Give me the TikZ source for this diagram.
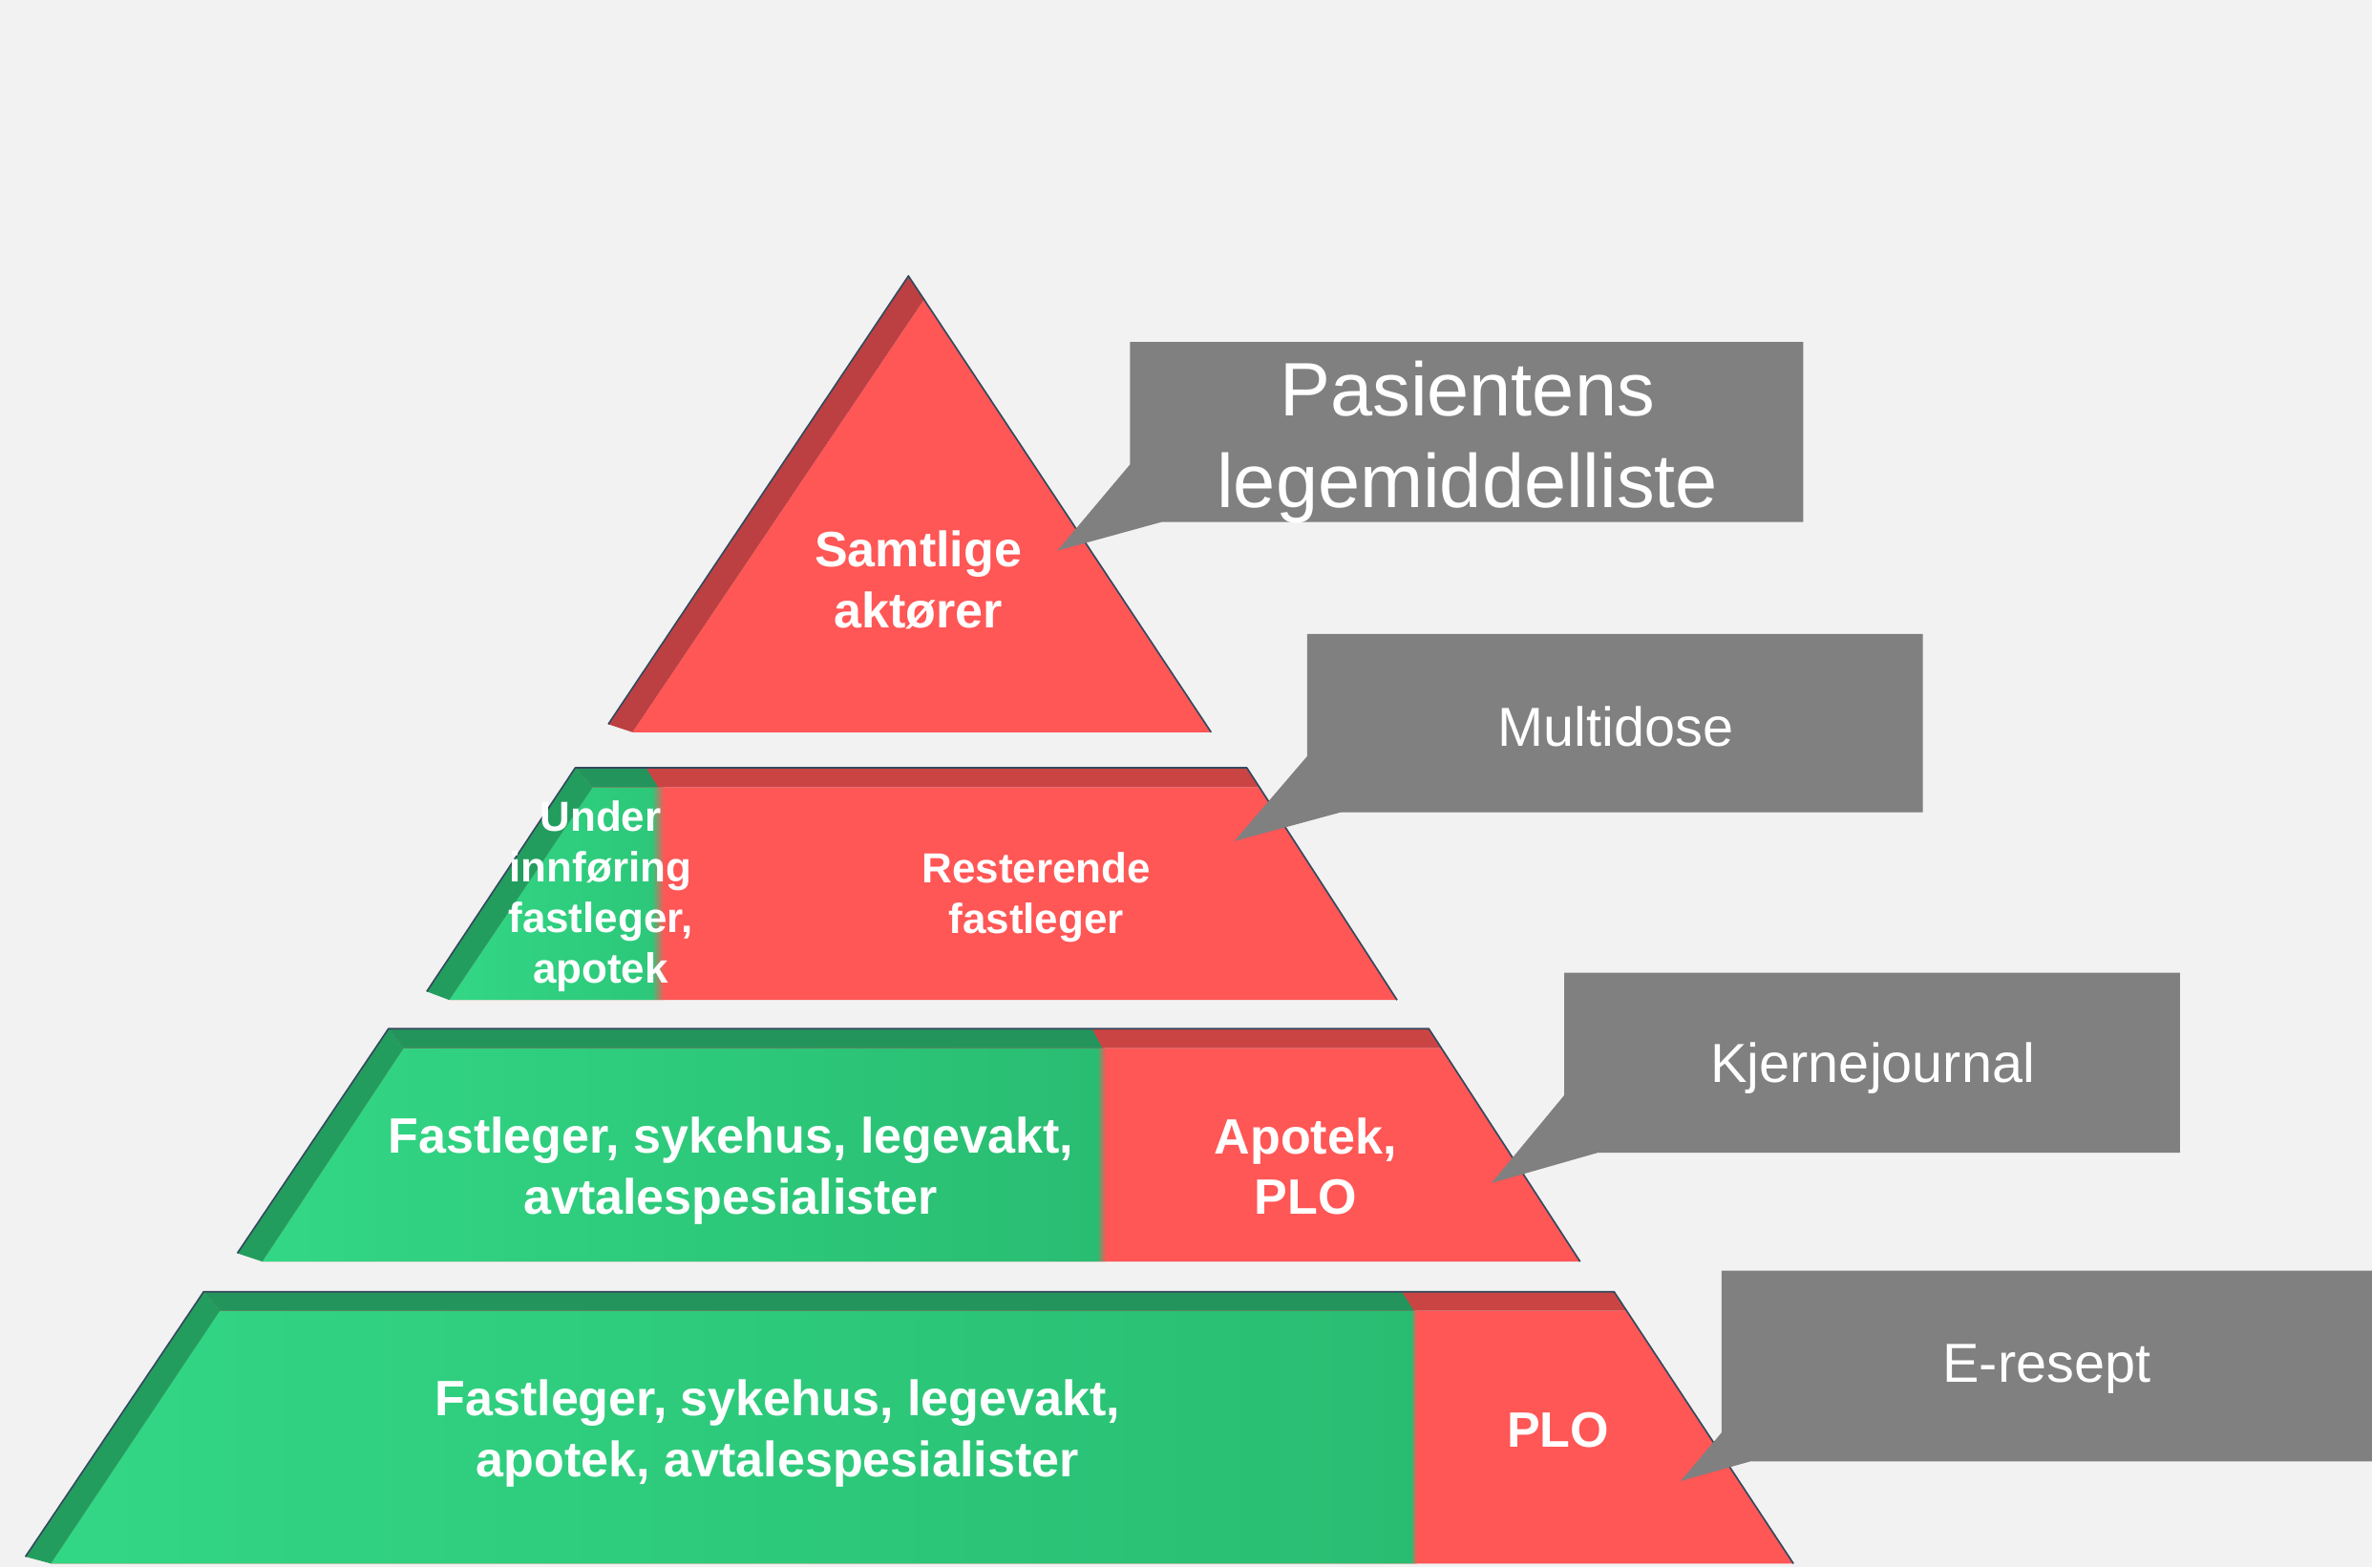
\documentclass[tikz,border=0pt]{standalone}
\usepackage{fontspec}
\setmainfont{Liberation Sans}
\definecolor{bg}{HTML}{F2F2F2}
\definecolor{redface}{HTML}{FF5656}
\definecolor{redtop}{HTML}{CB4444}
\definecolor{redside}{HTML}{BC4042}
\definecolor{greenL}{HTML}{32D785}
\definecolor{greenR}{HTML}{29BD72}
\definecolor{greentop}{HTML}{23955C}
\definecolor{greenside}{HTML}{239D5E}
\definecolor{edgeblue}{HTML}{34495E}
\definecolor{callgray}{HTML}{808080}
\begin{document}
\begin{tikzpicture}[x=0.02cm,y=-0.02cm,
  edgeline/.style={draw=edgeblue,line width=0.6pt,line join=round},
  lbl/.style={text=white,align=center,font=\bfseries\fontsize{18.7}{22.8}\selectfont,inner sep=0pt},
  lblsmall/.style={text=white,align=center,font=\bfseries\fontsize{15.8}{18.95}\selectfont,inner sep=0pt},
  callbox/.style={inner sep=0pt,outer sep=0pt},
  calltext/.style={text=white,align=center,inner sep=0pt,font=\fontsize{20.7}{24.8}\selectfont},
  callshape/.style={fill=callgray}]
% canvas
\fill[bg] (0,0) rectangle (1568,1036);
\useasboundingbox (0,0) rectangle (1568,1036);

% ---------- top triangle ----------
\coordinate (t1apb) at (600.5,182.4);
\coordinate (t1apf) at (610.8,198);
\coordinate (t1bBL) at (402.1,478.7);
\coordinate (t1fBL) at (418.1,484);
\coordinate (t1BR) at (800.6,484);
\fill[redface] (t1fBL) -- (t1apf) -- (t1BR) -- cycle;
\fill[redside] (t1bBL) -- (t1apb) -- (t1apf) -- (t1fBL) -- cycle;
\draw[edgeline] (t1bBL) -- (t1apb) -- (t1BR);
\node[lbl] (n1) at (607,383.5) {Samtlige\\aktører};

% ---------- tier 2 ----------
\coordinate (t2bTL) at (380.3,507.5);
\coordinate (t2bTR) at (824.2,507.5);
\coordinate (t2fTL) at (391.8,520.4);
\coordinate (t2fTR) at (832.6,520.4);
\coordinate (t2fBL) at (297,661);
\coordinate (t2bBL) at (282.1,655.4);
\coordinate (t2BR) at (923.5,661);
\begin{scope}
  \clip (t2fTL) -- (t2fTR) -- (t2BR) -- (t2fBL) -- cycle;
  \fill[redface] (250,500) rectangle (950,670);
  \shade[left color=greenL,right color=greenR!60!greenL] (297,500) rectangle (431,670);
  \shade[left color=greenR!60!greenL,right color=redface] (431,500) rectangle (439,670);
\end{scope}
\begin{scope}
  \clip (t2bTL) -- (t2bTR) -- (t2fTR) -- (t2fTL) -- cycle;
  \fill[redtop] (250,500) rectangle (950,530);
  \fill[greentop] (250,500) -- (422.3,500) -- (437.9,525) -- (250,525) -- cycle;
\end{scope}
\fill[greenside] (t2bTL) -- (t2fTL) -- (t2fBL) -- (t2bBL) -- cycle;
\draw[edgeline] (t2bBL) -- (t2bTL) -- (t2bTR) -- (t2BR);
\node[lblsmall] (n2a) at (397,592.5) {Under\\innføring\\fastleger,\\apotek};
\node[lblsmall] (n2b) at (685,593) {Resterende\\fastleger};

% ---------- tier 3 ----------
\coordinate (t3bTL) at (256.8,680);
\coordinate (t3bTR) at (944.5,680);
\coordinate (t3fTL) at (266.8,692.9);
\coordinate (t3fTR) at (952.9,692.9);
\coordinate (t3fBL) at (173.4,833.9);
\coordinate (t3bBL) at (156.9,828.4);
\coordinate (t3BR) at (1044.5,833.9);
\begin{scope}
  \clip (t3fTL) -- (t3fTR) -- (t3BR) -- (t3fBL) -- cycle;
  \fill[redface] (150,670) rectangle (1060,840);
  \shade[left color=greenL,right color=greenR] (173.4,670) rectangle (725,840);
  \shade[left color=greenR,right color=redface] (725,670) rectangle (731,840);
\end{scope}
\begin{scope}
  \clip (t3bTL) -- (t3bTR) -- (t3fTR) -- (t3fTL) -- cycle;
  \fill[redtop] (150,670) rectangle (1060,700);
  \fill[greentop] (150,670) -- (716.3,670) -- (732.6,700) -- (150,700) -- cycle;
\end{scope}
\fill[greenside] (t3bTL) -- (t3fTL) -- (t3fBL) -- (t3bBL) -- cycle;
\draw[edgeline] (t3bBL) -- (t3bTL) -- (t3bTR) -- (t3BR);
\node[lbl] (n3a) at (483,774) {Fastleger, sykehus, legevakt,\\avtalespesialister};
\node[lbl] (n3b) at (863,771) {Apotek,\\PLO};

% ---------- tier 4 ----------
\coordinate (t4bTL) at (134.6,853.9);
\coordinate (t4bTR) at (1067,853.9);
\coordinate (t4fTL) at (145.3,866.5);
\coordinate (t4fTR) at (1075.3,866.5);
\coordinate (t4fBL) at (33.6,1033.5);
\coordinate (t4bBL) at (16.8,1029);
\coordinate (t4BR) at (1185.5,1033.5);
\begin{scope}
  \clip (t4fTL) -- (t4fTR) -- (t4BR) -- (t4fBL) -- cycle;
  \fill[redface] (10,845) rectangle (1200,1040);
  \shade[left color=greenL,right color=greenR] (33.6,845) rectangle (932.5,1040);
  \shade[left color=greenR,right color=redface] (932.5,845) rectangle (936.5,1040);
\end{scope}
\begin{scope}
  \clip (t4bTL) -- (t4bTR) -- (t4fTR) -- (t4fTL) -- cycle;
  \fill[redtop] (10,845) rectangle (1200,875);
  \fill[greentop] (10,845) -- (921,845) -- (940.1,875) -- (10,875) -- cycle;
\end{scope}
\fill[greenside] (t4bTL) -- (t4fTL) -- (t4fBL) -- (t4bBL) -- cycle;
\draw[edgeline] (t4bBL) -- (t4bTL) -- (t4bTR) -- (t4BR);
\node[lbl] (n4a) at (514,947.5) {Fastleger, sykehus, legevakt,\\apotek, avtalespesialister};
\node[lbl] (n4b) at (1030,945) {PLO};

% ---------- callouts: box and pointer filled as one outline ----------
\node[callbox,minimum width=445*0.02cm,minimum height=119*0.02cm] (c1) at (969.5,285.5) {};
\coordinate (c1tip) at (699,364);
\fill[callshape] (c1.north west) -- (c1.north east) -- (c1.south east) -- (c1.south -| 768,0)
  -- (c1tip) -- (c1.west |- 0,307) -- cycle;
\node[calltext,font=\fontsize{28.5}{34.5}\selectfont] (c1t) at (970,292.5) {Pasientens\\legemiddelliste};

\node[callbox,minimum width=407*0.02cm,minimum height=118*0.02cm] (c2) at (1067.5,478) {};
\coordinate (c2tip) at (816,556);
\fill[callshape] (c2.north west) -- (c2.north east) -- (c2.south east) -- (c2.south -| 886,0)
  -- (c2tip) -- (c2.west |- 0,500) -- cycle;
\node[calltext] (c2t) at (1068,480) {Multidose};

\node[callbox,minimum width=407*0.02cm,minimum height=119*0.02cm] (c3) at (1237.5,702.5) {};
\coordinate (c3tip) at (986,782);
\fill[callshape] (c3.north west) -- (c3.north east) -- (c3.south east) -- (c3.south -| 1056,0)
  -- (c3tip) -- (c3.west |- 0,724) -- cycle;
\node[calltext] (c3t) at (1238,706) {Kjernejournal};

\node[callbox,minimum width=430*0.02cm,minimum height=126*0.02cm] (c4) at (1353,903) {};
\coordinate (c4tip) at (1111,979);
\fill[callshape] (c4.north west) -- (c4.north east) -- (c4.south east) -- (c4.south -| 1157,0)
  -- (c4tip) -- (c4.west |- 0,947) -- cycle;
\node[calltext] (c4t) at (1353,905) {E-resept};
\end{tikzpicture}
\end{document}
